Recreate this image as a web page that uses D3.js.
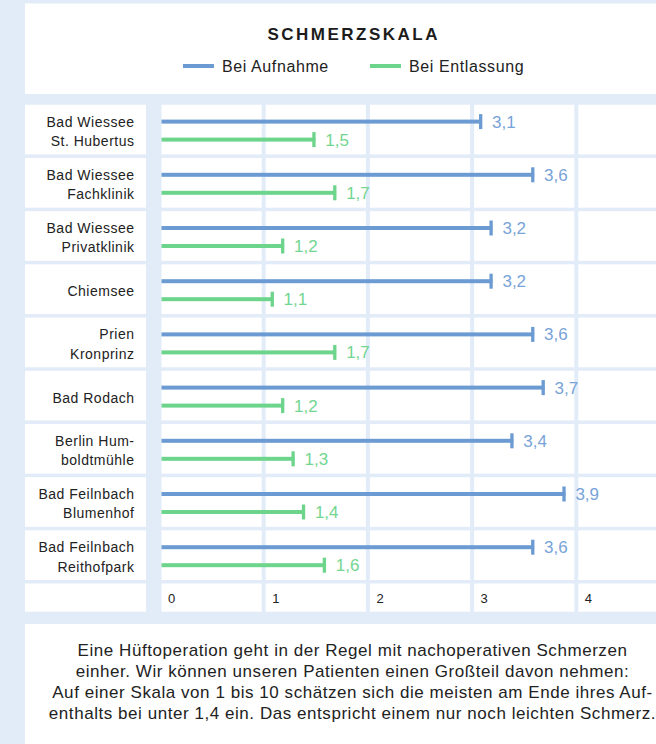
<!DOCTYPE html>
<html>
<head>
<meta charset="utf-8">
<script src="https://cdn.jsdelivr.net/npm/d3@7"></script>
<style>
  body { margin: 0; background: #e2ecf8; }
  svg { display: block; font-family: "Liberation Sans", Arial, sans-serif; }
</style>
</head>
<body>
<script>
const categories = [
  "Bad Wiessee\nSt. Hubertus",
  "Bad Wiessee\nFachklinik",
  "Bad Wiessee\nPrivatklinik",
  "Chiemsee",
  "Prien\nKronprinz",
  "Bad Rodach",
  "Berlin Hum-\nboldtmühle",
  "Bad Feilnbach\nBlumenhof",
  "Bad Feilnbach\nReithofpark"
];
const aufnahme = [3.1, 3.6, 3.2, 3.2, 3.6, 3.7, 3.4, 3.9, 3.6];
const entlassung = [1.5, 1.7, 1.2, 1.1, 1.7, 1.2, 1.3, 1.4, 1.6];
const seriesNames = ["Bei Aufnahme", "Bei Entlassung"];
const ticks = [0, 1, 2, 3, 4];
const footText = [
  "Eine Hüftoperation geht in der Regel mit nachoperativen Schmerzen",
  "einher. Wir können unseren Patienten einen Großteil davon nehmen:",
  "Auf einer Skala von 1 bis 10 schätzen sich die meisten am Ende ihres Auf-",
  "enthalts bei unter 1,4 ein. Das entspricht einem nur noch leichten Schmerz."
];

const W = 656, H = 744;
const blue = "#6b9bd2", blueTxt = "#78a3d8";
const green = "#6dd48b", greenTxt = "#72d690";
const bg = "#e2ecf8";
const fmt = d3.formatLocale({decimal: ",", thousands: ".", grouping: [3], currency: ["", "€"]}).format(".1f");

const svg = d3.select("body").append("svg")
    .attr("width", W)
    .attr("height", H);

svg.append("rect").attr("width", W).attr("height", H).attr("fill", bg);

const x = d3.scaleLinear().domain([0, 5]).range([159, 680]);
const y = d3.scaleBand().domain(categories).range([103, 581.8])
    .paddingInner(0.066).paddingOuter(0.033);
const cx = 352.5;

// header panel
svg.append("rect").attr("x", 25).attr("y", 3.5).attr("width", 700).attr("height", 90.5).attr("fill", "#fff");
svg.append("text").attr("x", cx + 1.2).attr("y", 39.5)
    .attr("text-anchor", "middle")
    .attr("font-size", 17).attr("font-weight", "bold")
    .attr("letter-spacing", 2.5)
    .attr("fill", "#1c1c1c")
    .text("SCHMERZSKALA");

const legend = svg.append("g").selectAll("g").data(seriesNames).enter().append("g")
    .attr("transform", (d, i) => `translate(${[183, 370][i]},66)`);
legend.append("line")
    .attr("x1", 0).attr("x2", 31)
    .attr("stroke", (d, i) => [blue, green][i])
    .attr("stroke-width", 4);
legend.append("text")
    .attr("x", 39).attr("y", 6)
    .attr("font-size", 16).attr("letter-spacing", 0.6).attr("fill", "#222")
    .text(d => d);

// row cells
const rows = svg.append("g").selectAll("g").data(categories).enter().append("g")
    .attr("transform", d => `translate(0,${y(d)})`);
rows.append("rect")
    .attr("x", 25).attr("width", 121)
    .attr("height", y.bandwidth()).attr("fill", "#fff");
rows.selectAll("rect.cell").data(d3.range(5)).enter().append("rect")
    .attr("class", "cell")
    .attr("x", d => x(d) + 2.5)
    .attr("width", d => x(d + 1) - x(d) - 4)
    .attr("height", y.bandwidth()).attr("fill", "#fff");

const mid = y.bandwidth() / 2;
rows.append("text")
    .attr("text-anchor", "end")
    .attr("font-size", 14).attr("letter-spacing", 0.5).attr("fill", "#222")
    .each(function(d) {
      const lines = d.split("\n");
      const t = d3.select(this);
      lines.forEach((l, i) => {
        t.append("tspan").attr("x", 134.5)
          .attr("y", lines.length === 1 ? mid + 7 : mid - 3 + i * 19.5)
          .text(l);
      });
    });

// axis row
const axisTop = 583.5, axisH = 28.2;
svg.append("rect").attr("x", 25).attr("y", axisTop).attr("width", 121).attr("height", axisH).attr("fill", "#fff");
svg.selectAll("rect.acell").data(d3.range(5)).enter().append("rect")
    .attr("class", "acell")
    .attr("x", d => x(d) + 2.5)
    .attr("y", axisTop)
    .attr("width", d => x(d + 1) - x(d) - 4)
    .attr("height", axisH).attr("fill", "#fff");

const axis = svg.append("g")
    .attr("transform", `translate(0,${axisTop + 19})`)
    .call(d3.axisBottom(x).tickValues(ticks).tickSize(0).tickPadding(0).tickFormat(d3.format("d")));
axis.select(".domain").remove();
axis.selectAll("text")
    .attr("text-anchor", "start")
    .attr("dx", 8.5).attr("dy", 0)
    .attr("font-size", 13).attr("fill", "#222")
    .attr("font-family", "Liberation Sans, Arial, sans-serif");

// bars
const series = [
  {values: aufnahme, color: blue, txt: blueTxt, off: -8},
  {values: entlassung, color: green, txt: greenTxt, off: 10}
];
series.forEach(s => {
  const g = svg.append("g");
  g.selectAll("rect.bar").data(categories).enter().append("rect")
      .attr("x", x(0) + 2.5)
      .attr("y", d => y(d) + mid + s.off - 2)
      .attr("width", (d, i) => x(s.values[i]) - x(0) - 2.5)
      .attr("height", 4)
      .attr("fill", s.color);
  g.selectAll("rect.cap").data(categories).enter().append("rect")
      .attr("x", (d, i) => x(s.values[i]) - 3)
      .attr("y", d => y(d) + mid + s.off - 7.5)
      .attr("width", 3.3)
      .attr("height", 15)
      .attr("fill", s.color);
  g.selectAll("text").data(categories).enter().append("text")
      .attr("x", (d, i) => x(s.values[i]) + 10)
      .attr("y", d => y(d) + mid + s.off + 6)
      .attr("font-size", 17)
      .attr("fill", s.txt)
      .text((d, i) => fmt(s.values[i]));
});

// foot text panel
svg.append("rect").attr("x", 25).attr("y", 624).attr("width", 700).attr("height", 130).attr("fill", "#fff");
svg.append("g").selectAll("text").data(footText).enter().append("text")
    .attr("x", cx)
    .attr("y", (d, i) => 656 + i * 21)
    .attr("text-anchor", "middle")
    .attr("font-size", 17).attr("letter-spacing", 0.55).attr("fill", "#222")
    .text(d => d);
</script>
</body>
</html>
